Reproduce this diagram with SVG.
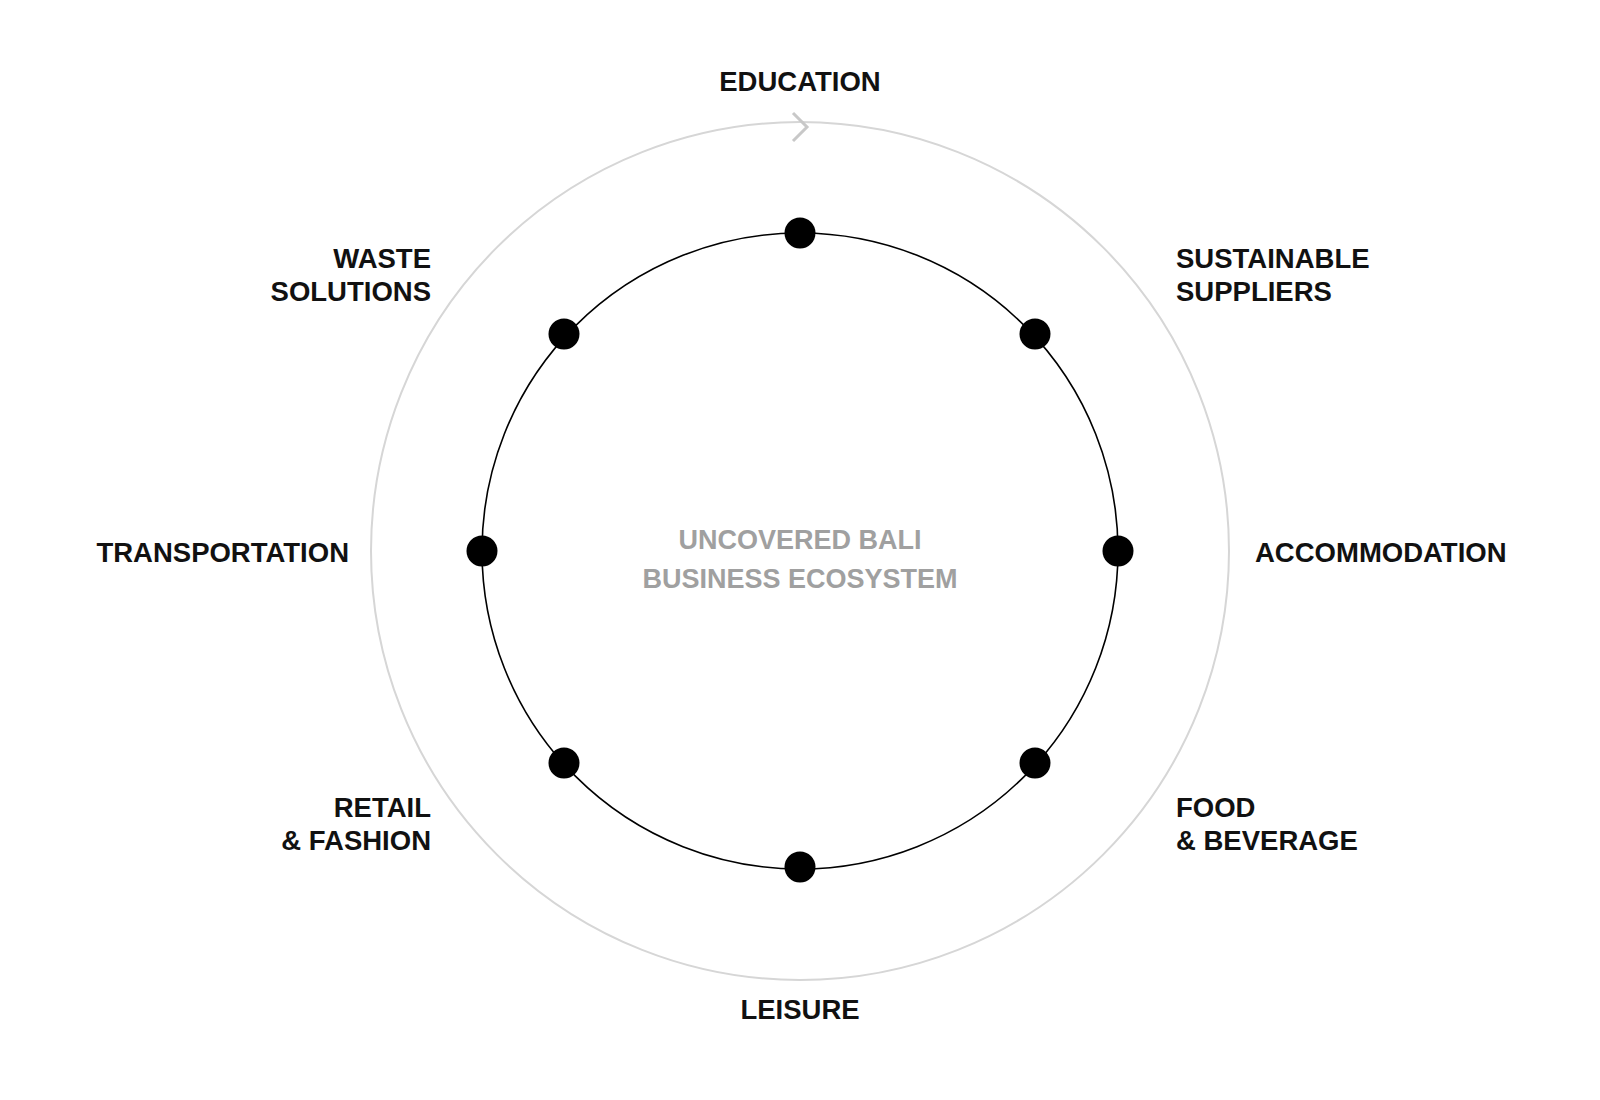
<svg xmlns="http://www.w3.org/2000/svg" width="1600" height="1100" viewBox="0 0 1600 1100">
<style>
.l{font-family:"Liberation Sans",Arial,sans-serif;font-weight:bold;font-size:27.5px;fill:#111}
.c{font-family:"Liberation Sans",Arial,sans-serif;font-weight:bold;font-size:27px;fill:#a0a0a0}
.d{fill:#000}
</style>
<rect width="1600" height="1100" fill="#fff"/>
<g id="connectors">
<circle cx="800" cy="551" r="429" fill="none" stroke="#d6d6d6" stroke-width="2"/>
<polyline points="793,113 807,127 793,141" fill="none" stroke="#c8c8c8" stroke-width="3"/>
<circle cx="800" cy="551" r="318" fill="none" stroke="#000" stroke-width="1.6"/>
</g>
<g id="center"><text class="c" x="800" y="549" text-anchor="middle">UNCOVERED BALI</text><text class="c" x="800" y="588" text-anchor="middle">BUSINESS ECOSYSTEM</text></g>
<g id="education"><circle class="d" cx="800" cy="233" r="15.5"/><text class="l" x="800" y="91" text-anchor="middle">EDUCATION</text></g>
<g id="suppliers"><circle class="d" cx="1035" cy="334" r="15.5"/><text class="l" x="1176" y="268">SUSTAINABLE</text><text class="l" x="1176" y="301">SUPPLIERS</text></g>
<g id="accommodation"><circle class="d" cx="1118" cy="551" r="15.5"/><text class="l" x="1255" y="562">ACCOMMODATION</text></g>
<g id="food"><circle class="d" cx="1035" cy="763" r="15.5"/><text class="l" x="1176" y="817">FOOD</text><text class="l" x="1176" y="850">&amp; BEVERAGE</text></g>
<g id="leisure"><circle class="d" cx="800" cy="867" r="15.5"/><text class="l" x="800" y="1019" text-anchor="middle">LEISURE</text></g>
<g id="retail"><circle class="d" cx="564" cy="763" r="15.5"/><text class="l" x="431" y="817" text-anchor="end">RETAIL</text><text class="l" x="431" y="850" text-anchor="end">&amp; FASHION</text></g>
<g id="transportation"><circle class="d" cx="482" cy="551" r="15.5"/><text class="l" x="349" y="562" text-anchor="end">TRANSPORTATION</text></g>
<g id="waste"><circle class="d" cx="564" cy="334" r="15.5"/><text class="l" x="431" y="268" text-anchor="end">WASTE</text><text class="l" x="431" y="301" text-anchor="end">SOLUTIONS</text></g>
</svg>
